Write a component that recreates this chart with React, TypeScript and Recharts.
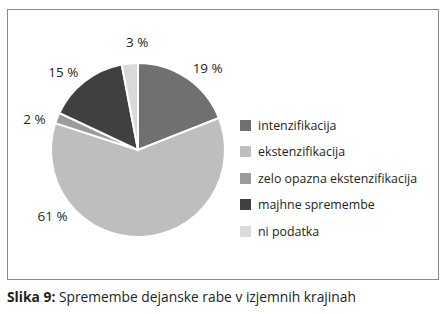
import React from "react";
import { PieChart, Pie, Cell, Legend } from "recharts";

const categories = [
  "intenzifikacija",
  "ekstenzifikacija",
  "zelo opazna ekstenzifikacija",
  "majhne spremembe",
  "ni podatka",
];
const shares = [19, 61, 2, 15, 3];
const colors = ["#707070", "#bebebe", "#9b9b9b", "#404040", "#dadada"];

const data = categories.map((name, i) => ({ name, value: shares[i] }));

const FONT = "'Open Sans', sans-serif";
const RADIAN = Math.PI / 180;
// small nudges so the labels sit where the original placed them
const labelShift = [-6, -54, 5, 6, -5];

function renderLabel(props: any) {
  const { cx, cy, midAngle, outerRadius, index, value } = props;
  const a = (midAngle + labelShift[index]) * RADIAN;
  const r = outerRadius + 21;
  const x = cx + r * Math.cos(a);
  const y = cy - r * Math.sin(a);
  return (
    <text
      x={x}
      y={y}
      textAnchor="middle"
      dominantBaseline="central"
      fill="#231f20"
      fontSize={13.5}
      fontFamily={FONT}
    >
      {value} %
    </text>
  );
}

function LegendList({ payload }: any) {
  const items = [...(payload || [])].sort(
    (a: any, b: any) => categories.indexOf(a.value) - categories.indexOf(b.value)
  );
  return (
    <div style={{ fontFamily: FONT, fontSize: 12.4, color: "#231f20" }}>
      {items.map((p: any) => (
        <div key={p.value} style={{ display: "flex", alignItems: "center", height: 26.5 }}>
          <span style={{ width: 11, height: 11, background: p.color, marginRight: 7 }} />
          <span>{p.value}</span>
        </div>
      ))}
    </div>
  );
}

export default function App() {
  return (
    <div style={{ position: "fixed", left: 0, top: 0, width: 446, height: 314, background: "#fff" }}>
      <div
        style={{
          position: "absolute",
          left: 7,
          top: 9,
          width: 432,
          height: 271,
          boxSizing: "border-box",
          border: "1px solid #8a8a8a",
        }}
      />
      <div style={{ position: "absolute", left: 0, top: 0 }}>
        <PieChart width={446} height={284} margin={{ top: 0, right: 0, bottom: 0, left: 0 }}>
          <Pie
            data={data}
            dataKey="value"
            nameKey="name"
            cx={138}
            cy={150}
            outerRadius={87}
            startAngle={90}
            endAngle={-270}
            stroke="#fff"
            strokeWidth={2}
            label={renderLabel}
            labelLine={false}
            isAnimationActive={false}
          >
            {data.map((d, i) => (
              <Cell key={d.name} fill={colors[i]} />
            ))}
          </Pie>
          <Legend
            layout="vertical"
            content={<LegendList />}
            wrapperStyle={{ left: 240, top: 112, width: 200 }}
          />
        </PieChart>
      </div>
      <div
        style={{
          position: "absolute",
          left: 7,
          top: 287,
          fontFamily: FONT,
          fontSize: 13.8,
          color: "#231f20",
          whiteSpace: "nowrap",
        }}
      >
        <b>Slika 9:</b> Spremembe dejanske rabe v izjemnih krajinah
      </div>
    </div>
  );
}
